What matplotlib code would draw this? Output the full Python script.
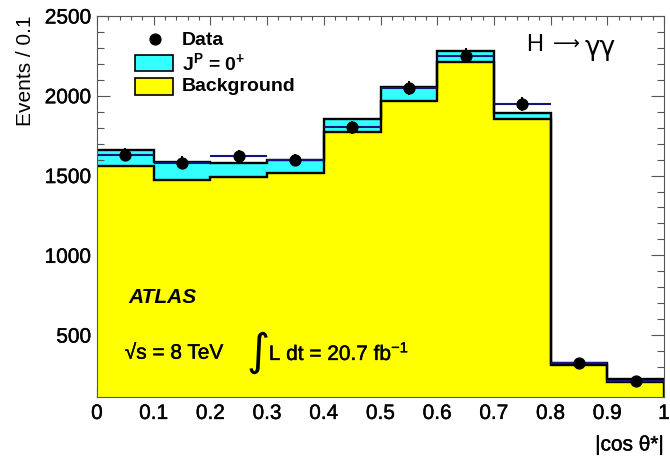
import matplotlib
matplotlib.use("Agg")
import matplotlib.pyplot as plt
import matplotlib.patches as patches
import matplotlib.patheffects as pe
from matplotlib.ticker import MultipleLocator, FixedLocator
import numpy as np

plt.rcParams['font.family'] = ['Liberation Sans', 'DejaVu Sans']
plt.rcParams['mathtext.fontset'] = 'custom'
plt.rcParams['mathtext.rm'] = 'Liberation Sans'
plt.rcParams['mathtext.bf'] = 'Liberation Sans:bold'
plt.rcParams['mathtext.it'] = 'Liberation Sans:italic'

# |cos theta*| binning and event counts per bin
bin_edges = [0.0, 0.1, 0.2, 0.3, 0.4, 0.5, 0.6, 0.7, 0.8, 0.9, 1.0]
background = [1562, 1475, 1494, 1519, 1775, 1969, 2212, 1856, 312, 204]
signal_0p = [100, 112, 87, 81, 81, 87, 69, 38, 13, 18]
data_counts = [1630, 1580, 1620, 1598, 1802, 2050, 2250, 1950, 323, 214]
data_err = [40, 40, 40, 40, 42, 45, 47, 44, 18, 15]
x_ticklabels = ['0', '0.1', '0.2', '0.3', '0.4', '0.5', '0.6', '0.7', '0.8', '0.9', '1']

edges = np.array(bin_edges)
bkg = np.array(background, dtype=float)
total = bkg + np.array(signal_0p, dtype=float)
centers = 0.5 * (edges[:-1] + edges[1:])
half_w = 0.5 * np.diff(edges)

ymin, ymax = 112, 2500

# slightly heavier strokes for the regular-weight text
heavy = [pe.withStroke(linewidth=0.3, foreground='black')]

fig = plt.figure(figsize=(6.7, 4.62), dpi=100)
ax = fig.add_axes([97 / 670, 1 - 397 / 462, 567 / 670, 381 / 462])

# stacked histograms: signal on top of background
ax.stairs(total, edges, baseline=ymin, fill=True, color='#33ffff', zorder=1)
ax.stairs(bkg, edges, baseline=ymin, fill=True, color='#ffff00', zorder=2)
ax.stairs(total, edges, baseline=None, color='black', lw=1.7, zorder=3)
ax.stairs(bkg, edges, baseline=None, color='black', lw=1.7, zorder=3)
ax.vlines(edges[-1], ymin, total[-1], color='black', lw=1.7, zorder=3)

# data points
ax.errorbar(centers, data_counts, xerr=half_w, fmt='none',
            ecolor='#14147a', elinewidth=1.5, capsize=0, zorder=4)
ax.errorbar(centers, data_counts, yerr=data_err, fmt='none',
            ecolor='black', elinewidth=1.5, capsize=0, zorder=4)
ax.plot(centers, data_counts, 'o', color='black', ms=7.8, zorder=5)

ax.set_xlim(0, 1)
ax.set_ylim(ymin, ymax)
ax.xaxis.set_major_locator(FixedLocator(bin_edges))
ax.set_xticklabels(x_ticklabels)
ax.xaxis.set_minor_locator(MultipleLocator(0.02))
ax.yaxis.set_major_locator(FixedLocator([500, 1000, 1500, 2000, 2500]))
ax.yaxis.set_minor_locator(MultipleLocator(100))

ax.tick_params(which='both', direction='in', top=True, right=True,
               color='#555555', width=0.8, labelsize=15)
ax.tick_params(axis='x', which='major', length=6.5, pad=5)
ax.tick_params(axis='x', which='minor', length=3.2)
ax.tick_params(axis='y', which='major', length=9.5, pad=4)
ax.tick_params(axis='y', which='minor', length=5)
for lab in ax.get_xticklabels() + ax.get_yticklabels():
    lab.set_path_effects(heavy)
for sp in ax.spines.values():
    sp.set_color('#555555')
    sp.set_linewidth(0.8)
    sp.set_zorder(6)

ax.set_ylabel('Events / 0.1', fontsize=15, loc='top', labelpad=7)
ax.set_xlabel('|cos θ*|', fontsize=15, loc='right', labelpad=9, path_effects=heavy)

# legend
tr = ax.transAxes
ax.plot([0.102], [0.940], 'o', color='black', ms=7.8, transform=tr, clip_on=False, zorder=7)
ax.add_patch(patches.Rectangle((0.067, 0.856), 0.067, 0.042, transform=tr,
                               facecolor='#33ffff', edgecolor='black', lw=1.2, zorder=7))
ax.add_patch(patches.Rectangle((0.067, 0.793), 0.067, 0.044, transform=tr,
                               facecolor='#ffff00', edgecolor='black', lw=1.2, zorder=7))
ax.text(0.150, 0.937, 'Data', transform=tr, fontsize=14, fontweight='bold', va='center', zorder=7)
ax.text(0.150, 0.875, r'$\mathbf{J^{P}}$ = $\mathbf{0^{+}}$', transform=tr, fontsize=14,
        fontweight='bold', va='center', zorder=7)
ax.text(0.150, 0.816, 'Background', transform=tr, fontsize=14, fontweight='bold', va='center', zorder=7)

# H -> gamma gamma
ax.text(0.756, 0.924, 'H', transform=tr, fontsize=17, va='center', zorder=7)
ax.text(0.827, 0.926, '⟶', transform=tr, fontsize=13.5, ha='center', va='center', zorder=7,
        family=['DejaVu Sans'])
ax.text(0.860, 0.916, 'γγ', transform=tr, fontsize=19, va='center', zorder=7,
        family=['DejaVu Sans'])

ax.text(0.055, 0.260, 'ATLAS', transform=tr, fontsize=15, fontweight='bold', style='italic',
        va='center', zorder=7)
ax.text(0.049, 0.115, '√s = 8 TeV', transform=tr, fontsize=15, va='center', zorder=7,
        path_effects=heavy)
ax.text(0.263, 0.118, '∫', transform=tr, fontsize=32, va='center', zorder=7,
        family=['DejaVu Sans'])
ax.text(0.303, 0.115, r'L dt = 20.7 fb$^{\mathrm{-1}}$', transform=tr, fontsize=15,
        va='center', zorder=7, path_effects=heavy)

fig.savefig('out.png', dpi=100)
